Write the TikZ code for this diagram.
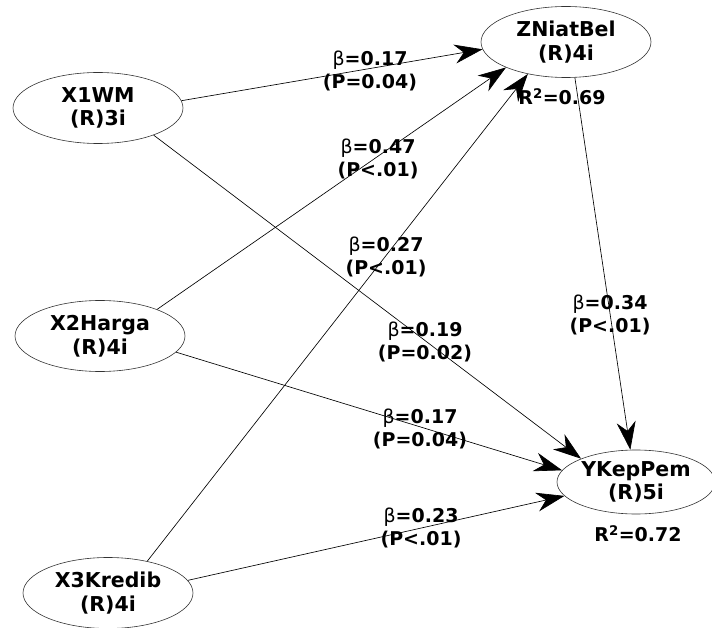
\documentclass[tikz,border=0pt]{standalone}
\usepackage{fontspec}
\setmainfont{DejaVu Sans}
\usepackage{tikz}
\usetikzlibrary{positioning,arrows.meta,shapes.geometric}
\newcommand{\bcoef}[2]{{\mdseries β}=#1\\(P#2)}
\tikzset{
  lv/.style={ellipse,draw=black!80,line width=0.6pt,minimum width=170pt,minimum height=71pt,
    inner sep=0pt,align=center,font=\fontsize{20.5}{23.5}\selectfont\bfseries},
  lvy/.style={lv,minimum width=158pt,minimum height=64pt},
  pth/.style={-{Stealth[length=28pt,width=19pt,inset=9pt]},line width=0.65pt},
  coef/.style={align=center,inner sep=0pt,font=\fontsize{19}{23.5}\selectfont\bfseries},
}
\begin{document}
\begin{tikzpicture}[x=1pt,y=-1pt]
  \useasboundingbox (0,0) rectangle (712,628);
  % latent variables
  \node[lv] (x1) at (98,108) {X1WM\\(R)3i};
  \node[lv] (x2) at (100,336) {X2Harga\\(R)4i};
  \node[lv] (x3) at (108,593) {X3Kredib\\(R)4i};
  \node[lv] (z) at (566,42) {ZNiatBel\\(R)4i};
  \node[lvy] (y) at (636,482) {YKepPem\\(R)5i};
  % paths
  \draw[pth] (x1.5.4) -- (z.185.5);
  \draw[pth] (x2.25) -- (z.203);
  \draw[pth] (x3.39.5) -- (z.220);
  \draw[pth] (x1.334) -- (y.157.5);
  \draw[pth] (x2.348.7) -- (y.171);
  \draw[pth] (x3.9.2) -- (y.191);
  \draw[pth] (z.284.4) -- (y.100.6);
  % coefficients
  \node[coef] (c1) at (370,71) {\bcoef{0.17}{=0.04}};
  \node[coef] (c2) at (378,159) {\bcoef{0.47}{<.01}};
  \node[coef] (c3) at (386,257) {\bcoef{0.27}{<.01}};
  \node[coef] (c4) at (425,342) {\bcoef{0.19}{=0.02}};
  \node[coef] (c5) at (420,429) {\bcoef{0.17}{=0.04}};
  \node[coef] (c6) at (421,528) {\bcoef{0.23}{<.01}};
  \node[coef] (c7) at (610,315) {\bcoef{0.34}{<.01}};
  \node[coef] (rz) at (562,97) {R\textsuperscript{2}=0.69};
  \node[coef] (ry) at (638,534) {R\textsuperscript{2}=0.72};
\end{tikzpicture}
\end{document}
